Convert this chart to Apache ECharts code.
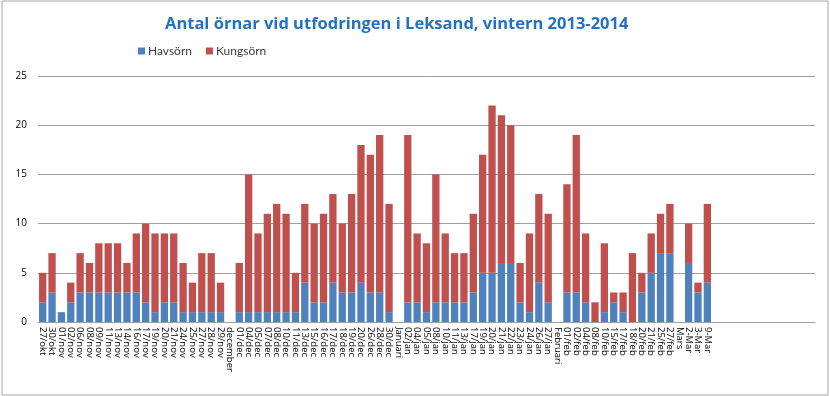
<!DOCTYPE html>
<html>
<head>
<meta charset="utf-8">
<script src="https://cdn.jsdelivr.net/npm/echarts@6/dist/echarts.min.js"></script>
<style>
  html, body { margin: 0; padding: 0; background: #fff; }
  #main { width: 830px; height: 396px; }
</style>
</head>
<body>
<div id="main"></div>
<script>
// datum (tomma kategorier på slutet som i Excel-bladet)
var dagar = [
  '27/okt', '30/okt', '01/nov', '02/nov', '06/nov', '08/nov', '09/nov', '11/nov', '13/nov', '14/nov',
  '16/nov', '17/nov', '19/nov', '20/nov', '21/nov', '24/nov', '25/nov', '27/nov', '28/nov', '29/nov',
  'december', '01/dec', '04/dec', '05/dec', '07/dec', '08/dec', '10/dec', '11/dec', '13/dec', '15/dec',
  '16/dec', '17/dec', '18/dec', '19/dec', '20/dec', '26/dec', '28/dec', '30/dec', 'Januari', '02/jan',
  '04/jan', '05/jan', '08/jan', '10/jan', '11/jan', '13/jan', '17/jan', '19/jan', '20/jan', '21/jan',
  '22/jan', '23/jan', '24/jan', '26/jan', '27/jan', 'Februari', '01/feb', '02/feb', '04/feb', '08/feb',
  '10/feb', '15/feb', '17/feb', '18/feb', '20/feb', '21/feb', '25/feb', '27/feb', 'Mars', '2-Mar',
  '3-Mar', '9-Mar', '', '', '', '', '', '', '', '', '', '', ''
];

var havsorn = [
  2, 3, 1, 2, 3, 3, 3, 3, 3, 3,
  3, 2, 1, 2, 2, 1, 1, 1, 1, 1,
  null, 1, 1, 1, 1, 1, 1, 1, 4, 2,
  2, 4, 3, 3, 4, 3, 3, 1, null, 2,
  2, 1, 2, 2, 2, 2, 3, 5, 5, 6,
  6, 2, 1, 4, 2, null, 3, 3, 2, 0,
  1, 2, 1, 0, 3, 5, 7, 7, null, 6,
  3, 4
];

var kungsorn = [
  3, 4, 0, 2, 4, 3, 5, 5, 5, 3,
  6, 8, 8, 7, 7, 5, 3, 6, 6, 3,
  null, 5, 14, 8, 10, 11, 10, 4, 8, 8,
  9, 9, 7, 10, 14, 14, 16, 11, null, 17,
  7, 7, 13, 7, 5, 5, 8, 12, 17, 15,
  14, 4, 8, 9, 9, null, 11, 16, 7, 2,
  7, 1, 2, 7, 2, 4, 4, 5, null, 4,
  1, 8
];

var yTicks = [0, 5, 10, 15, 20, 25];

var myChart = echarts.init(document.getElementById('main'));

option = {
    animation: false,
    color: ['#4F81BD', '#C0504D'],
    textStyle: { fontFamily: 'Open Sans' },
    title: {
        text: 'Antal örnar vid utfodringen i Leksand, vintern 2013-2014',
        left: 160,
        top: 11,
        textStyle: {
            fontFamily: 'Open Sans',
            fontSize: 16.5,
            fontWeight: 'bold',
            color: '#1F72C4'
        }
    },
    legend: {
        left: 133,
        top: 40,
        itemWidth: 7,
        itemHeight: 7,
        itemGap: 14,
        icon: 'rect',
        textStyle: { fontFamily: 'Lato', fontSize: 12, color: '#404040', padding: [0, 0, 0, -2] },
        data: ['Havsörn', 'Kungsörn']
    },
    graphic: [{
        type: 'rect',
        shape: { x: 2, y: 1, width: 826, height: 394 },
        style: { fill: 'none', stroke: '#A6A6A6', lineWidth: 1 },
        silent: true
    }],
    grid: {
        left: 38,
        right: 15,
        top: 76,
        bottom: 74
    },
    xAxis: {
        type: 'category',
        data: dagar,
        axisLine: { lineStyle: { color: '#A0A0A0' } },
        axisTick: { show: false },
        axisLabel: {
            interval: 0,
            rotate: -90,
            fontSize: 9.5,
            color: '#000',
            margin: 5
        }
    },
    yAxis: {
        type: 'value',
        min: 0,
        max: 25,
        interval: 5,
        axisLine: { show: false },
        axisTick: { show: false },
        axisLabel: {
            fontSize: 10,
            color: '#000',
            margin: 11,
            formatter: function (v) { return yTicks.indexOf(v) >= 0 ? String(v) : ''; }
        },
        splitLine: { lineStyle: { color: '#A0A0A0' } }
    },
    series: [{
        name: 'Havsörn',
        type: 'bar',
        stack: 'orn',
        barCategoryGap: '22%',
        data: havsorn
    }, {
        name: 'Kungsörn',
        type: 'bar',
        stack: 'orn',
        barCategoryGap: '22%',
        data: kungsorn
    }]
};

myChart.setOption(option);
</script>
</body>
</html>
